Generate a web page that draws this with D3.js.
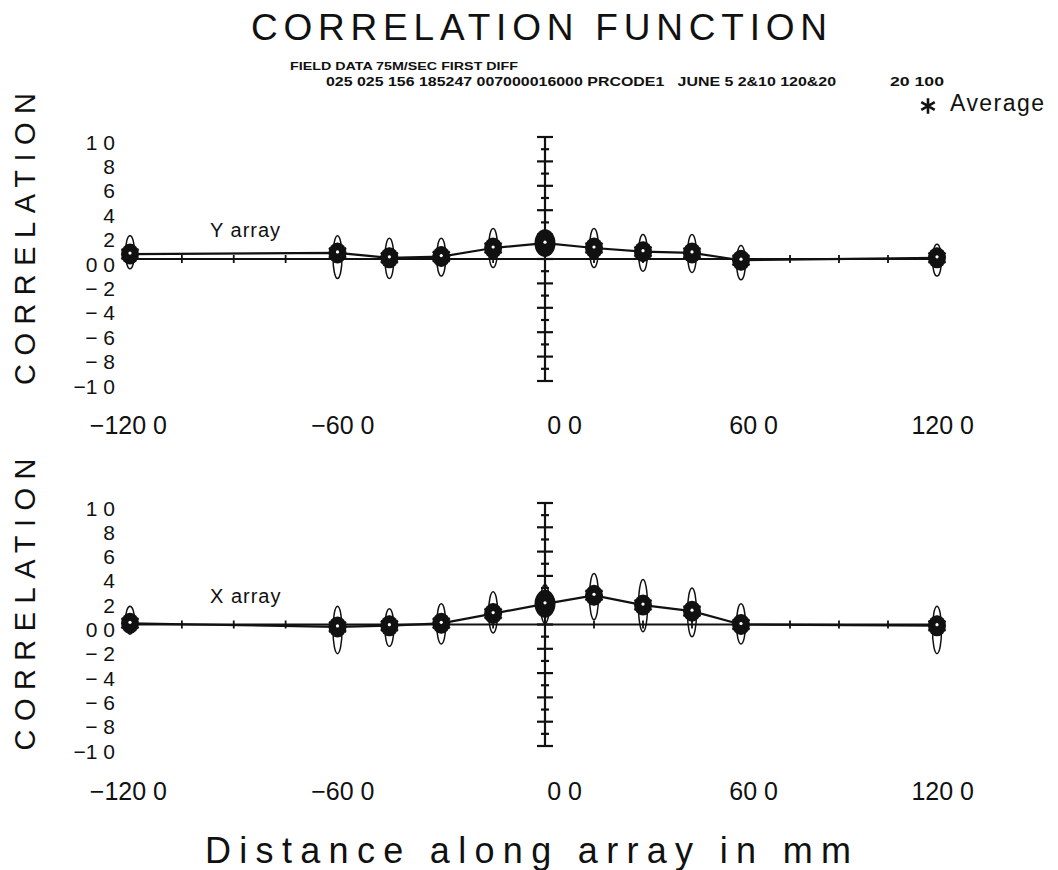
<!DOCTYPE html>
<html>
<head>
<meta charset="utf-8">
<script src="https://cdn.jsdelivr.net/npm/d3@7"></script>
<style>
  body { margin: 0; background: #fff; }
  text { fill: #111; }
</style>
</head>
<body>
<svg id="chart" width="1058" height="870"></svg>
<script>
// Probe offsets along the array (mm)
const offsets = [-120, -60, -45, -30, -15, 0, 15, 30, 45, 60, 120];

// Y array: averaged correlation and the spread envelope of the individual runs
const yArrayAvg  = [0.04, 0.05, 0.01, 0.02, 0.09, 0.13, 0.09, 0.06, 0.05, -0.01, 0.01];
const yArrayHigh = [0.19, 0.19, 0.17, 0.17, 0.25, 0.22, 0.25, 0.20, 0.20, 0.11, 0.12];
const yArrayLow  = [-0.08, -0.16, -0.16, -0.14, -0.07, 0.03, -0.07, -0.10, -0.11, -0.17, -0.14];

// X array: averaged correlation and the spread envelope of the individual runs
const xArrayAvg  = [0.01, -0.02, -0.01, 0.01, 0.09, 0.17, 0.24, 0.16, 0.11, 0.00, -0.01];
const xArrayHigh = [0.15, 0.15, 0.13, 0.17, 0.27, 0.33, 0.42, 0.37, 0.30, 0.17, 0.15];
const xArrayLow  = [-0.08, -0.24, -0.18, -0.16, -0.07, 0.01, 0.04, -0.06, -0.10, -0.16, -0.24];

// Axis ticks and their printed labels
const xTickValues = [-120, -60, 0, 60, 120];
const xTickLabels = ["\u2212120 0", "\u221260 0", "0 0", "60 0", "120 0"];
const yTickValues = [1, 0.8, 0.6, 0.4, 0.2, 0, -0.2, -0.4, -0.6, -0.8, -1];
const yTickLabels = ["1 0", "8", "6", "4", "2", "0 0", "\u2212 2", "\u2212 4", "\u2212 6", "\u2212 8", "\u22121 0"];
const gridStepMm = 15;

const svg = d3.select("#chart");
const FONT = "'Liberation Sans', Arial, sans-serif";

// Horizontal scale shared by both panels
const x = d3.scaleLinear().domain([-120, 0, 120]).range([130, 545, 937]);

// Header
svg.append("text")
  .attr("x", 251).attr("y", 40)
  .attr("textLength", 576).attr("lengthAdjust", "spacing")
  .style("font-family", FONT).style("font-size", "37px")
  .text("CORRELATION FUNCTION");

svg.append("text")
  .attr("x", 290).attr("y", 70)
  .attr("textLength", 228).attr("lengthAdjust", "spacingAndGlyphs")
  .style("font-family", "'Liberation Sans Narrow', 'Liberation Sans', sans-serif")
  .style("font-size", "11px").style("font-weight", "bold")
  .text("FIELD DATA 75M/SEC FIRST DIFF");

svg.append("text")
  .attr("x", 326).attr("y", 86)
  .attr("textLength", 510).attr("lengthAdjust", "spacingAndGlyphs")
  .style("font-family", "'Liberation Sans Narrow', 'Liberation Sans', sans-serif")
  .style("font-size", "12px").style("font-weight", "bold")
  .style("white-space", "pre")
  .text("025 025 156 185247 007000016000 PRCODE1   JUNE 5 2&10 120&20");

svg.append("text")
  .attr("x", 890).attr("y", 86)
  .attr("textLength", 54).attr("lengthAdjust", "spacingAndGlyphs")
  .style("font-family", "'Liberation Sans Narrow', 'Liberation Sans', sans-serif")
  .style("font-size", "12px").style("font-weight", "bold")
  .text("20 100");

// Legend
svg.append("path")
  .attr("transform", "translate(928,106)")
  .attr("d", d3.symbol(d3.symbolAsterisk, 170)())
  .attr("fill", "none").attr("stroke", "#111").attr("stroke-width", 2.6);
svg.append("text")
  .attr("x", 950).attr("y", 111)
  .attr("textLength", 94).attr("lengthAdjust", "spacing")
  .style("font-family", FONT).style("font-size", "23px")
  .text("Average");

// Bottom axis title
svg.append("text")
  .attr("x", 205).attr("y", 863)
  .attr("textLength", 646).attr("lengthAdjust", "spacing")
  .style("font-family", FONT).style("font-size", "36px")
  .text("Distance along array in mm");

const panels = [
  { label: "Y array", avg: yArrayAvg, hi: yArrayHigh, lo: yArrayLow, range: [381, 137] },
  { label: "X array", avg: xArrayAvg, hi: xArrayHigh, lo: xArrayLow, range: [746, 503] }
];

panels.forEach(p => {
  const y = d3.scaleLinear().domain([-1, 1]).range(p.range);
  const g = svg.append("g");
  const y0 = y(0);

  // Rotated axis title
  g.append("text")
    .attr("transform", `translate(35,${(y(1) + y(-1)) / 2 - 20}) rotate(-90)`)
    .attr("text-anchor", "middle")
    .attr("textLength", 292).attr("lengthAdjust", "spacing")
    .style("font-family", FONT).style("font-size", "29px")
    .text("CORRELATION");

  // Y tick labels
  g.selectAll(".ylab").data(yTickValues).join("text")
    .attr("x", 115).attr("y", d => y(d) + 5)
    .attr("dy", "0.36em")
    .attr("text-anchor", "end")
    .style("font-family", FONT).style("font-size", "21px")
    .text((d, i) => yTickLabels[i]);

  // X tick labels
  g.selectAll(".xlab").data(xTickValues).join("text")
    .attr("x", d => x(d) + 37).attr("y", y0 + 175)
    .attr("text-anchor", "end")
    .style("font-family", FONT).style("font-size", "25px")
    .text((d, i) => xTickLabels[i]);

  // Zero line with small marks every 15 mm
  g.append("line")
    .attr("x1", x(-120)).attr("x2", x(120))
    .attr("y1", y0).attr("y2", y0)
    .attr("stroke", "#111").attr("stroke-width", 2.2);
  g.selectAll(".xmark").data(d3.range(-120, 121, gridStepMm)).join("line")
    .attr("x1", d => x(d)).attr("x2", d => x(d))
    .attr("y1", y0 - 4).attr("y2", y0 + 4)
    .attr("stroke", "#111").attr("stroke-width", 1.8);

  // Vertical axis at zero offset with + marks every 0.1
  g.append("line")
    .attr("x1", x(0)).attr("x2", x(0))
    .attr("y1", y(1)).attr("y2", y(-1))
    .attr("stroke", "#111").attr("stroke-width", 2.2);
  g.selectAll(".ymark").data(d3.range(-10, 11)).join("line")
    .attr("x1", d => x(0) - (d % 2 === 0 ? 8 : 4))
    .attr("x2", d => x(0) + (d % 2 === 0 ? 8 : 4))
    .attr("y1", d => y(d / 10)).attr("y2", d => y(d / 10))
    .attr("stroke", "#111").attr("stroke-width", 2.2);

  // Panel label
  g.append("text")
    .attr("x", 210).attr("y", y0 - 22)
    .style("font-family", FONT).style("font-size", "20px")
    .attr("letter-spacing", "1px")
    .text(p.label);

  const pts = offsets.map((o, i) => ({ o, v: p.avg[i], hi: p.hi[i], lo: p.lo[i] }));

  // Spread envelopes of the individual runs
  g.selectAll(".env").data(pts).join("ellipse")
    .attr("cx", d => x(d.o))
    .attr("cy", d => (y(d.hi) + y(d.lo)) / 2)
    .attr("rx", 4.5)
    .attr("ry", d => Math.abs(y(d.lo) - y(d.hi)) / 2)
    .attr("fill", "none").attr("stroke", "#111").attr("stroke-width", 1.5);

  // Average curve
  g.append("path")
    .datum(pts)
    .attr("d", d3.line().x(d => x(d.o)).y(d => y(d.v)))
    .attr("fill", "none").attr("stroke", "#111").attr("stroke-width", 2.2);

  // Clustered run markers at each offset
  g.selectAll(".blob").data(pts).join("ellipse")
    .attr("cx", d => x(d.o)).attr("cy", d => y(d.v))
    .attr("rx", d => d.o === 0 ? 10.5 : 9)
    .attr("ry", d => d.o === 0 ? 14 : 10.5)
    .attr("fill", "#111");
  g.selectAll(".star").data(pts).join("path")
    .attr("transform", d => `translate(${x(d.o)},${y(d.v)})`)
    .attr("d", d3.symbol(d3.symbolAsterisk, 280)())
    .attr("fill", "none").attr("stroke", "#111").attr("stroke-width", 2.4);
  g.selectAll(".speck").data(pts).join("circle")
    .attr("cx", d => x(d.o)).attr("cy", d => y(d.v) - 1)
    .attr("r", 1.6)
    .attr("fill", "#fff");
});
</script>
</body>
</html>
